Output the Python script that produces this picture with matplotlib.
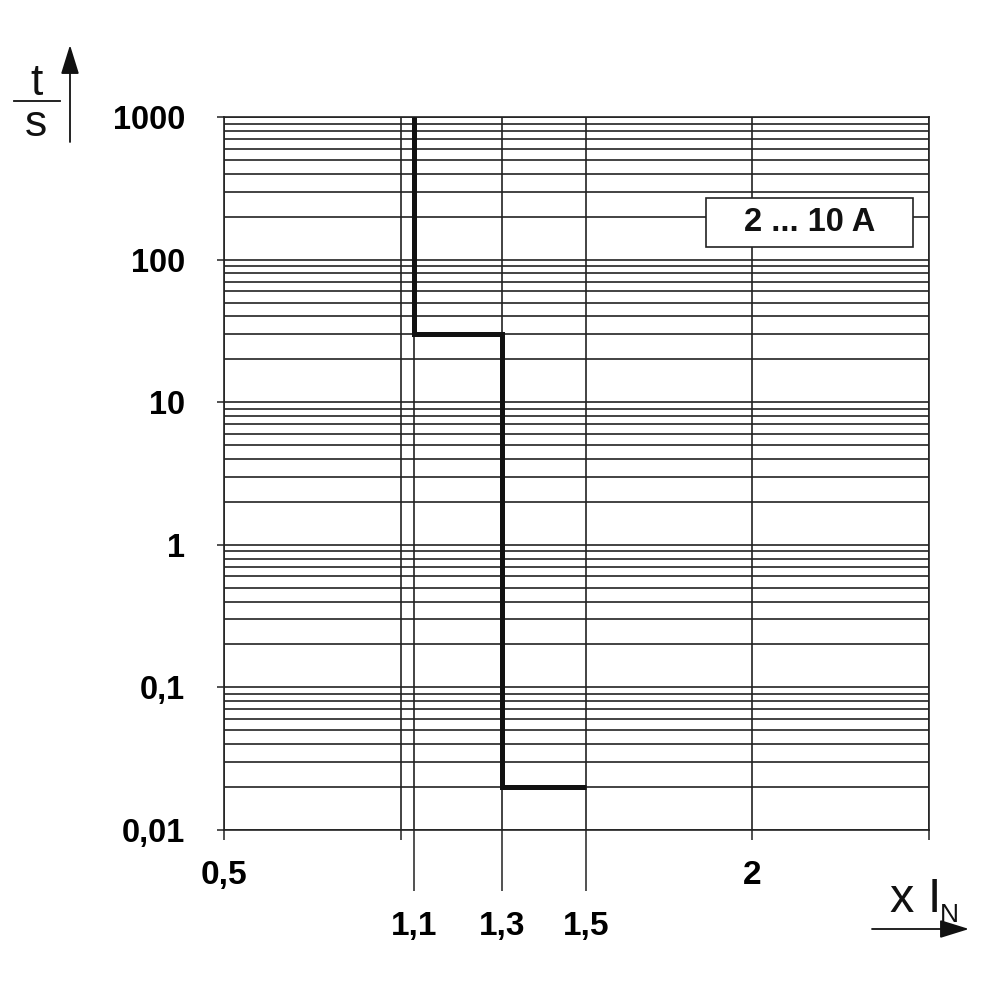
#
# fuse time-current curve, 2 ... 10 A
#

import numpy as np
import matplotlib
matplotlib.use('Agg')
import matplotlib.pyplot as plt
from matplotlib.ticker import LogLocator, NullFormatter
from matplotlib.patches import Rectangle
from matplotlib.lines import Line2D

plt.rcParams['font.family'] = ['Liberation Sans', 'DejaVu Sans']

# the curve (multiple of rated current vs. trip time in s)
curve_x = [1.1, 1.1, 1.3, 1.3, 1.5]
curve_t = [1000, 30, 30, 0.02, 0.02]

y_ticks = [0.01, 0.1, 1, 10, 100, 1000]
y_labels = ['0,01', '0,1', '1', '10', '100', '1000']

x_short = [0.5, 1.0, 2.0, 3.0]
x_short_labels = ['0,5', '', '2', '']
x_long = [1.1, 1.3, 1.5]
x_long_labels = ['1,1', '1,3', '1,5']

rating = '2 ... 10 A'

# the datasheet x axis is neither linear nor log -> piecewise scale
scale_v = [0.5, 1.0, 1.1, 1.3, 1.5, 2.0, 3.0]
scale_p = [0, 177, 190, 278, 362, 528, 705]

def fwd(v):
    return np.interp(v, scale_v, scale_p)

def inv(p):
    return np.interp(p, scale_p, scale_v)

W, H = 984, 1000
def px(x, y):
    # pixel (from top left) -> figure fraction
    return x / W, 1 - y / H

GRID = '#222222'

fig = plt.figure(figsize=(W / 100, H / 100), dpi=100)
ax = fig.add_axes([224 / W, 170 / H, 705 / W, 713 / H])
ax.set_xscale('function', functions=(fwd, inv))
ax.set_yscale('log')
ax.set_xlim(0.5, 3.0)
ax.set_ylim(0.01, 1000)

ax.set_yticks(y_ticks, y_labels)
ax.yaxis.set_minor_locator(LogLocator(base=10, subs=np.arange(2, 10), numticks=50))
ax.yaxis.set_minor_formatter(NullFormatter())
ax.set_xticks(x_short, x_short_labels)
ax.set_xticks(x_long, x_long_labels, minor=True)

ax.tick_params(axis='y', which='major', length=5, width=1.1, color=GRID,
               pad=23, labelsize=23.5)
ax.tick_params(axis='y', which='minor', length=0)
ax.tick_params(axis='x', which='major', length=7.2, width=1.1, color=GRID,
               pad=14.5, labelsize=24)
ax.tick_params(axis='x', which='minor', length=44, width=1.1, color=GRID,
               pad=14.5, labelsize=24)
for lab in ax.get_xticklabels(which='both') + ax.get_yticklabels():
    lab.set_fontweight('bold')

ax.grid(which='both', color=GRID, lw=1.2)
for s in ax.spines.values():
    s.set_color(GRID)
    s.set_linewidth(1.2)

ax.plot(curve_x, curve_t, color='#111111', lw=3.6, clip_on=False,
        solid_joinstyle='miter', solid_capstyle='butt', zorder=5)

# rating box
ax.add_patch(Rectangle((0.6837, 0.8177), 0.2933, 0.0683, transform=ax.transAxes,
                       facecolor='white', edgecolor=GRID, lw=1.2, zorder=6))
ax.text(0.8305, 0.852, rating, transform=ax.transAxes, ha='center', va='center',
        fontsize=23.5, fontweight='bold', color='#111111', zorder=7)

# axis captions with arrows
ax.annotate('', xy=px(70, 45), xytext=px(70, 142), xycoords='figure fraction',
            arrowprops=dict(arrowstyle='-|>,head_length=0.9,head_width=0.28',
                            mutation_scale=20, lw=1.3, color='#111111',
                            shrinkA=0, shrinkB=0))
ax.annotate('', xy=px(969, 929), xytext=px(872, 929), xycoords='figure fraction',
            arrowprops=dict(arrowstyle='-|>,head_length=0.9,head_width=0.28',
                            mutation_scale=20, lw=1.3, color='#111111',
                            shrinkA=0, shrinkB=0))

fig.add_artist(Line2D([14 / W, 60 / W], [1 - 101 / H, 1 - 101 / H],
                      transform=fig.transFigure, color='#111111', lw=1.3))
fig.text(*px(37, 95), 't', ha='center', va='baseline', fontsize=32, color='#111111')
fig.text(*px(36, 136), 's', ha='center', va='baseline', fontsize=32, color='#111111')
fig.text(*px(890, 912), 'x I', ha='left', va='baseline', fontsize=35, color='#111111')
fig.text(*px(940, 922), 'N', ha='left', va='baseline', fontsize=19, color='#111111')

fig.savefig('out.png', dpi=100)
